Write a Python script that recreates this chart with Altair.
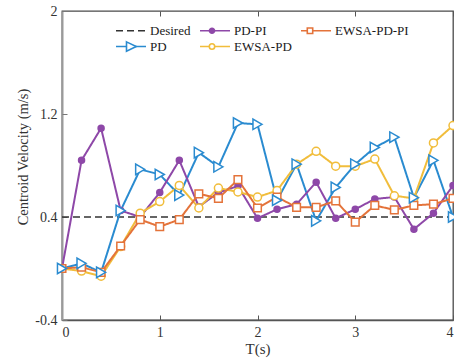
import altair as alt
import pandas as pd

# ---- data ----
t = [0.0, 0.2, 0.4, 0.6, 0.8, 1.0, 1.2, 1.4, 1.6, 1.8, 2.0,
     2.2, 2.4, 2.6, 2.8, 3.0, 3.2, 3.4, 3.6, 3.8, 4.0]
pd_v = [0.0, 0.04, -0.03, 0.45, 0.77, 0.73, 0.57, 0.90, 0.79, 1.13, 1.12,
        0.53, 0.81, 0.37, 0.63, 0.81, 0.94, 1.02, 0.55, 0.84, 0.40]
pd_pi_v = [0.0, 0.84, 1.09, 0.45, 0.40, 0.59, 0.84, 0.48, 0.59, 0.64, 0.39,
           0.46, 0.50, 0.67, 0.39, 0.46, 0.54, 0.555, 0.305, 0.43, 0.645]
ewsa_pd_v = [0.0, -0.02, -0.06, 0.17, 0.43, 0.52, 0.645, 0.47, 0.625, 0.595, 0.555,
             0.605, 0.81, 0.91, 0.795, 0.795, 0.85, 0.565, 0.545, 0.975, 1.11]
ewsa_pd_pi_v = [0.0, 0.01, -0.03, 0.175, 0.38, 0.325, 0.38, 0.58, 0.545, 0.69, 0.47,
                0.555, 0.475, 0.475, 0.525, 0.36, 0.49, 0.455, 0.49, 0.50, 0.545]
desired_t = [0.0, 4.0]
desired_v = [0.4, 0.4]

series_names = ["Desired", "PD-PI", "EWSA-PD-PI", "PD", "EWSA-PD"]
series_colors = ["#333333", "#8E48A8", "#E4733A", "#2A8BD0", "#F1BD3B"]
col = dict(zip(series_names, series_colors))
x_ticks = [0, 1, 2, 3, 4]
y_ticks = [-0.4, 0.4, 1.2, 2]

rows = []
for name, vals in [("PD", pd_v), ("PD-PI", pd_pi_v), ("EWSA-PD", ewsa_pd_v),
                   ("EWSA-PD-PI", ewsa_pd_pi_v)]:
    for ti, vi in zip(t, vals):
        rows.append({"series": name, "t": ti, "v": vi})
df = pd.DataFrame(rows)
df_des = pd.DataFrame({"series": "Desired", "t": desired_t, "v": desired_v})

FONT = "Liberation Serif"
xs = alt.Scale(domain=[0, 4], nice=False, zero=False)
ys = alt.Scale(domain=[-0.4, 2], nice=False, zero=False)
cscale = alt.Scale(domain=series_names, range=series_colors)
DASH = [7, 4]

# legend marker glyphs (unit = sqrt(symbolSize)/2 px)
marker_paths = [
    "M0,0",
    "M0.34,0A0.34,0.34,0,1,1,-0.34,0A0.34,0.34,0,1,1,0.34,0Z"
    "M0.17,0A0.17,0.17,0,1,1,-0.17,0A0.17,0.17,0,1,1,0.17,0ZM-0.05,0H0.05",
    "M-0.36,-0.36H0.36V0.36H-0.36Z",
    "M-0.6,-0.62L0.7,0L-0.6,0.62Z",
    "M0.36,0A0.36,0.36,0,1,1,-0.36,0A0.36,0.36,0,1,1,0.36,0Z",
]
marker_domain = [s + "_m" for s in series_names]
dash_range = [DASH, [1, 0], [1, 0], [1, 0], [1, 0]]

def make_legend(marker_layer):
    kw = dict(
        title=None, orient="none", legendX=53, legendY=11, columns=3,
        direction="horizontal",
        symbolSize=225, symbolStrokeWidth=1.6, symbolOffset=7.5, symbolOpacity=1,
        labelOffset=10.5, labelFont=FONT, labelFontSize=13, labelColor="#1a1a1a",
        columnPadding=5, rowPadding=-1, padding=0,
    )
    if marker_layer:
        kw.update(labelOpacity=0, zindex=2, symbolFillColor="white",
                  labelExpr="replace(datum.label, '_m', '')")
    else:
        kw.update(symbolType="M-2,0H2", zindex=1)
    return alt.Legend(**kw)

# series lines, main axes (bottom/left), line legend
lines = alt.Chart(df).mark_line(strokeWidth=2).encode(
    x=alt.X("t:Q", scale=xs, axis=alt.Axis(
        values=x_ticks, title="T(s)", ticks=False, labelPadding=5,
        labelFont=FONT, labelFontSize=14, labelColor="#333333",
        titleFont=FONT, titleFontSize=15, titleFontWeight="normal", titleColor="#333333",
        titlePadding=2, domainColor="#555555", domainWidth=1.5, grid=False)),
    y=alt.Y("v:Q", scale=ys, axis=alt.Axis(
        values=y_ticks, title="Centroid Velocity (m/s)", ticks=False, labelPadding=5,
        labelExpr="'' + datum.value",
        labelFont=FONT, labelFontSize=14, labelColor="#333333",
        titleFont=FONT, titleFontSize=14.5, titleFontWeight="normal", titleColor="#333333",
        titleX=-34.5, titleY=145.5, titleBaseline="alphabetic", titleAlign="center",
        domainColor="#9a9a9a", domainWidth=2, grid=False)),
    color=alt.Color("series:N", scale=cscale, legend=make_legend(False)),
    strokeDash=alt.StrokeDash("series:N", scale=alt.Scale(domain=series_names, range=dash_range),
                              legend=make_legend(False)),
    order=alt.Order("series:N"),
)

# desired reference line (top inward ticks)
desired = alt.Chart(df_des).mark_line(strokeWidth=1.3, strokeDash=DASH, color="#333333").encode(
    x=alt.X("t:Q", scale=xs, axis=alt.Axis(
        values=x_ticks, labels=False, domain=False, title=None, offset=-5,
        tickSize=5, tickColor="#555555", grid=False, orient="top")),
    y=alt.Y("v:Q", scale=ys, axis=None),
)

def pts(name, shape, size, filled, axes=False):
    if axes:
        xa = alt.Axis(values=x_ticks, labels=False, domain=False, title=None, offset=-5,
                      tickSize=5, tickColor="#555555", grid=False, orient="bottom")
        ya = alt.Axis(values=y_ticks, labels=False, domain=False, title=None, offset=-5,
                      tickSize=5, tickColor="#777777", grid=False, orient="left")
    else:
        xa = None
        ya = None
    return alt.Chart(df).transform_filter(
        alt.datum.series == name
    ).mark_point(shape=shape, size=size, strokeWidth=1.5, opacity=1,
                 stroke=col[name], fill=col[name] if filled else "white").encode(
        x=alt.X("t:Q", scale=xs, axis=xa),
        y=alt.Y("v:Q", scale=ys, axis=ya),
    )

p_pd = pts("PD", "triangle-right", 110, False, axes=True)
p_pdpi = pts("PD-PI", "circle", 36, True)
p_ewpd = pts("EWSA-PD", "circle", 64, False)
p_ewpdpi = pts("EWSA-PD-PI", "square", 58, False)

# invisible layer carrying the marker legend (drawn over the line legend)
leg = alt.Chart(df).transform_calculate(
    mk="datum.series + '_m'"
).mark_point(filled=False, fill="white", strokeWidth=1.6, opacity=0).encode(
    x=alt.X("t:Q", scale=xs, axis=None),
    y=alt.Y("v:Q", scale=ys, axis=None),
    stroke=alt.Stroke("mk:N", scale=alt.Scale(domain=marker_domain, range=series_colors),
                      legend=make_legend(True)),
    shape=alt.Shape("mk:N", scale=alt.Scale(domain=marker_domain, range=marker_paths),
                    legend=make_legend(True)),
)

chart = alt.layer(desired, lines, p_pdpi, p_ewpd, p_ewpdpi, p_pd, leg).resolve_axis(
    x="independent", y="independent"
).properties(
    width=391, height=309,
    autosize=alt.AutoSizeParams(type="none"),
    padding={"left": 62, "top": 11, "right": 1, "bottom": 42},
    background="white",
).configure(font=FONT).configure_view(stroke="#4a4a4a", strokeWidth=1.3)

chart.save("out.html", embed_options={"renderer": "svg", "actions": False})
